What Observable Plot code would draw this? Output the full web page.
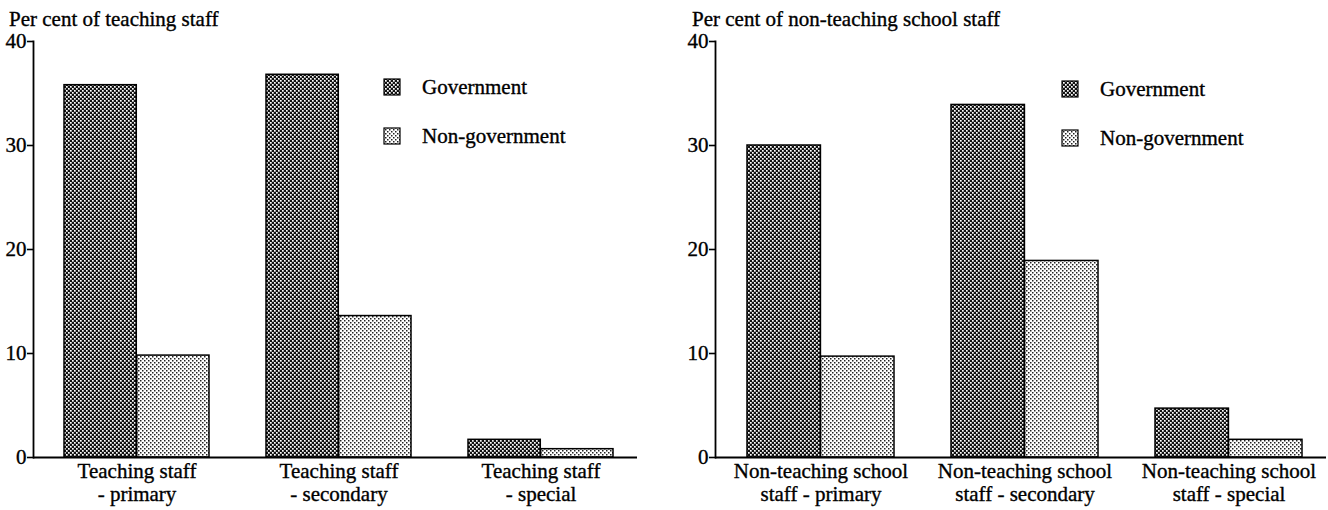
<!DOCTYPE html>
<html><head><meta charset="utf-8">
<script src="https://cdn.jsdelivr.net/npm/d3@7"></script>
<script src="https://cdn.jsdelivr.net/npm/@observablehq/plot@0.6"></script>
<style>
body{margin:0;background:#fff;font-family:"Liberation Serif","Times New Roman",serif;color:#000}
#wrap{position:relative;width:1328px;height:510px;overflow:hidden;background:#fff}
.panel{position:absolute;top:0;height:510px}
.title,.leg{-webkit-text-stroke:0.35px #000}
.title{position:absolute;top:9px;font-size:21px;line-height:21px;white-space:nowrap}
.leg{position:absolute;font-size:21px;line-height:21px;white-space:nowrap}
</style></head><body>
<svg width="0" height="0" style="position:absolute">
<defs>
<pattern id="pat-gov" width="4" height="4" patternUnits="userSpaceOnUse">
<rect width="4" height="4" fill="#111"/>
<rect x="0" y="0" width="1.7" height="1.7" fill="#fff"/>
<rect x="2" y="2" width="1.7" height="1.7" fill="#fff"/>
</pattern>
<pattern id="pat-nongov" width="4" height="4" patternUnits="userSpaceOnUse">
<rect width="4" height="4" fill="#fff"/>
<rect x="0" y="0" width="1.5" height="1.5" fill="#222"/>
<rect x="2" y="2" width="1.5" height="1.5" fill="#222"/>
</pattern>
</defs>
</svg>
<div id="wrap"></div>
<script>
// ---- data ----
const seriesNames = ["Government", "Non-government"];
const teachCats = ["Teaching staff\n- primary", "Teaching staff\n- secondary", "Teaching staff\n- special"];
const teachGov = [35.8, 36.8, 1.7];
const teachNonGov = [9.8, 13.6, 0.8];
const nonTeachCats = ["Non-teaching school\nstaff - primary", "Non-teaching school\nstaff - secondary", "Non-teaching school\nstaff - special"];
const nonTeachGov = [30.0, 33.9, 4.7];
const nonTeachNonGov = [9.7, 18.9, 1.7];
const yTicks = [0, 10, 20, 30, 40];
const titles = ["Per cent of teaching staff", "Per cent of non-teaching school staff"];

// ---- layout ----
const FONT = "Liberation Serif";
const fills = ["url(#pat-gov)", "url(#pat-nongov)"];
const wrap = document.getElementById("wrap");

function panel(cfg) {
  const {left, width, ml, mr, title, titleLeft, cats, gov, nongov, legLeft, legTop} = cfg;
  const height = 482, mt = 13, mb = 53;
  const pi = 0.28, po = 0.135, al = 0.57;
  const bw = d3.scaleBand().domain(cats).range([ml, width - mr])
    .paddingInner(pi).paddingOuter(po).align(al).bandwidth();
  const rows = [];
  cats.forEach((c, i) => {
    rows.push({cat: c, series: seriesNames[0], value: gov[i]});
    rows.push({cat: c, series: seriesNames[1], value: nongov[i]});
  });
  const marks = [
    Plot.barY(rows.filter(d => d.series === seriesNames[0]), {
      x: "cat", y: "value", fill: fills[0], stroke: "#000", strokeWidth: 1.5, insetRight: bw / 2
    }),
    Plot.barY(rows.filter(d => d.series === seriesNames[1]), {
      x: "cat", y: "value", fill: fills[1], stroke: "#000", strokeWidth: 1.5, insetLeft: bw / 2
    }),
    Plot.ruleY([0], {stroke: "#000", strokeWidth: 1.8}),
    Plot.text(cats, {
      x: d => d, text: d => d, frameAnchor: "bottom", lineAnchor: "top", dy: 4,
      lineHeight: 1.1, fontSize: 21, fontFamily: FONT, fill: "#000", stroke: "#000", strokeWidth: 0.35
    })
  ];
  const yOpts = {domain: [0, 40], ticks: yTicks, tickSize: 6, tickPadding: 1, line: true, label: null};
  if (Plot.axisY) {
    marks.push(Plot.axisY(yTicks, {tickSize: 6, tickPadding: 1, label: null, strokeWidth: 1.6,
      fontSize: 21, fontFamily: FONT, textStroke: "#000", textStrokeWidth: 0.35}));
    marks.push(Plot.frame({anchor: "left", stroke: "#000", strokeWidth: 1.8}));
  }
  const chart = Plot.plot({
    width, height, marginLeft: ml, marginRight: mr, marginTop: mt, marginBottom: mb,
    style: {fontFamily: FONT, fontSize: "21px", color: "#000", background: "transparent", overflow: "visible"},
    x: {domain: cats, paddingInner: pi, paddingOuter: po, align: al, axis: null},
    y: Plot.axisY ? {domain: [0, 40], axis: null} : yOpts,
    marks
  });
  const p = document.createElement("div");
  p.className = "panel";
  p.style.left = left + "px";
  p.style.width = width + "px";
  const t = document.createElement("div");
  t.className = "title";
  t.style.left = titleLeft + "px";
  t.textContent = title;
  p.appendChild(t);
  chart.style.position = "absolute";
  chart.style.top = "28px";
  chart.style.left = "0px";
  p.appendChild(chart);
  // legend
  seriesNames.forEach((name, i) => {
    const row = document.createElement("div");
    row.className = "leg";
    row.style.left = legLeft + "px";
    row.style.top = (legTop + i * 49) + "px";
    row.style.height = "18px";
    const ns = "http://www.w3.org/2000/svg";
    const s = document.createElementNS(ns, "svg");
    s.setAttribute("width", 18); s.setAttribute("height", 18);
    s.style.position = "absolute"; s.style.left = "0px"; s.style.top = "0px";
    const r = document.createElementNS(ns, "rect");
    r.setAttribute("x", 1); r.setAttribute("y", 1); r.setAttribute("width", 16); r.setAttribute("height", 16);
    r.setAttribute("fill", fills[i]); r.setAttribute("stroke", "#000"); r.setAttribute("stroke-width", 1.2);
    s.appendChild(r);
    row.appendChild(s);
    const lab = document.createElement("span");
    lab.textContent = name;
    lab.style.position = "absolute"; lab.style.left = "39px"; lab.style.top = "-1px";
    row.appendChild(lab);
    p.appendChild(row);
  });
  wrap.appendChild(p);
}

panel({left: 0, width: 660, ml: 33, mr: 23, title: titles[0], titleLeft: 9,
  cats: teachCats, gov: teachGov, nongov: teachNonGov, legLeft: 383, legTop: 78});
panel({left: 660, width: 668, ml: 55, mr: 2, title: titles[1], titleLeft: 32,
  cats: nonTeachCats, gov: nonTeachGov, nongov: nonTeachNonGov, legLeft: 401, legTop: 80});
</script>
</body></html>
